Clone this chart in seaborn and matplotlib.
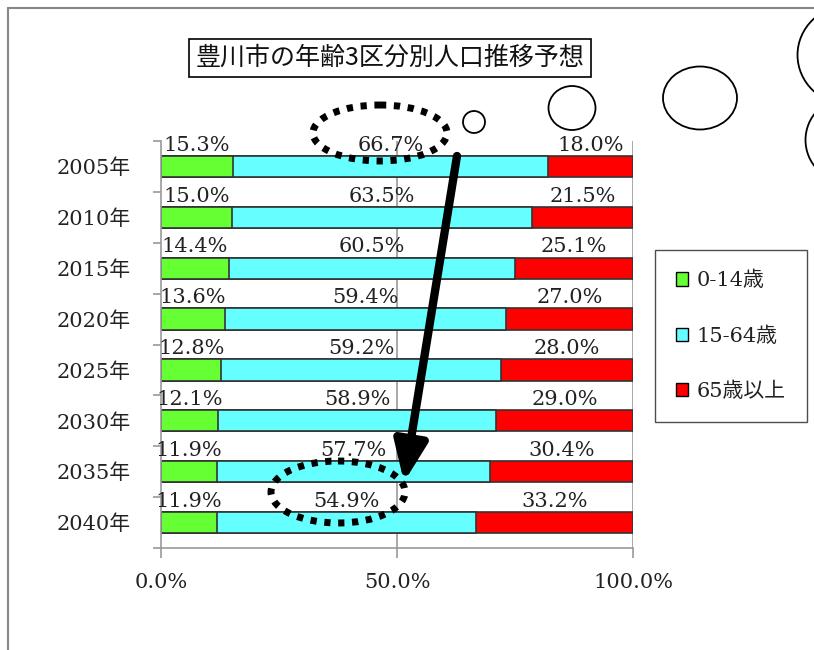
import numpy as np
import pandas as pd
import matplotlib.pyplot as plt
import seaborn as sns
from matplotlib.patches import Ellipse, Patch
from matplotlib.ticker import FuncFormatter

# data (percent)
years = ['2005年', '2010年', '2015年', '2020年', '2025年', '2030年', '2035年', '2040年']
young = [15.3, 15.0, 14.4, 13.6, 12.8, 12.1, 11.9, 11.9]
working = [66.7, 63.5, 60.5, 59.4, 59.2, 58.9, 57.7, 54.9]
elderly = [18.0, 21.5, 25.1, 27.0, 28.0, 29.0, 30.4, 33.2]
groups = ['0-14歳', '15-64歳', '65歳以上']
colors = ['#66FF33', '#66FFFF', '#FF0000']

df = pd.DataFrame({'year': years, 'young': young, 'working': working, 'elderly': elderly})
df['c1'] = df['young'] / 100
df['c2'] = (df['young'] + df['working']) / 100
df['c3'] = (df['young'] + df['working'] + df['elderly']) / 100

sns.set_style('white')
num_font = ['DejaVu Serif', 'Noto Sans CJK JP']
plt.rcParams['font.family'] = num_font

fig = plt.figure(figsize=(8.14, 6.5), dpi=100)
ax = fig.add_axes([161 / 814, 1 - 548 / 650, 472 / 814, 407 / 650])

# stacked bars: draw cumulative totals back to front
edge = '#333333'
for col, c in zip(['c3', 'c2', 'c1'], colors[::-1]):
    sns.barplot(data=df, x=col, y='year', orient='h', color=c, saturation=1,
                edgecolor=edge, linewidth=1.2, width=0.42, ax=ax)

ax.set_xlim(0, 1)
ax.set_ylim(len(years) - 0.5, -0.5)
ax.set_xlabel('')
ax.set_ylabel('')

# gridlines and spines
for x in [0.5, 1.0]:
    ax.axvline(x, color='#999999', lw=1.2, zorder=0)
for s in ['top', 'right']:
    ax.spines[s].set_visible(False)
for s in ['left', 'bottom']:
    ax.spines[s].set_color('#999999')
    ax.spines[s].set_linewidth(1.2)

txt = '#222222'
ax.set_xticks([0, 0.5, 1.0])
ax.xaxis.set_major_formatter(FuncFormatter(lambda v, p: f'{v * 100:.1f}%'))
ax.tick_params(axis='x', bottom=True, length=7, width=1.2, color='#999999',
               pad=11, labelsize=15, labelcolor=txt)
ax.set_yticks(range(len(years)))
ax.set_yticklabels(years)
ax.tick_params(axis='y', left=False, length=0, pad=22, labelsize=15, labelcolor=txt)
ax.set_yticks(np.arange(-0.5, len(years)), minor=True)
ax.tick_params(axis='y', which='minor', left=True, length=6, width=1.2, color='#999999')

# value labels above each segment
for i in range(len(years)):
    starts = [0, df['c1'][i], df['c2'][i]]
    vals = [young[i], working[i], elderly[i]]
    for s, v in zip(starts, vals):
        ax.text(s + v / 200, i - 0.23, f'{v:.1f}%', ha='center', va='bottom',
                fontsize=15, color=txt)

# legend
handles = [Patch(facecolor=c, edgecolor='black', lw=1) for c in colors]
leg = fig.legend(handles, groups, loc='upper left',
                 bbox_to_anchor=(655 / 814, 1 - 250 / 650), frameon=True,
                 fancybox=False, edgecolor='#222222', handlelength=0.6,
                 handleheight=0.6, handletextpad=0.4, labelspacing=1.72,
                 borderpad=1.0, borderaxespad=0, prop={'size': 15})
for t in leg.get_texts():
    t.set_color(txt)

# title box
fig.text(390 / 814, 1 - 58 / 650, '豊川市の年齢3区分別人口推移予想',
         ha='center', va='center', fontsize=18, family=['Noto Sans CJK JP'],
         color='#111111',
         bbox=dict(boxstyle='square,pad=0.25', fc='white', ec='black', lw=1.2))

# overlay for annotations in pixel coordinates
ov = fig.add_axes([0, 0, 1, 1], facecolor='none')
ov.set_xlim(0, 814)
ov.set_ylim(650, 0)
ov.axis('off')

ov.plot([8, 814], [8, 8], color='#888888', lw=1.5)
ov.plot([8, 8], [8, 650], color='#888888', lw=1.5)

dots = dict(fill=False, ec='black', lw=5, ls=(0, (0.9, 1.1)))
ov.add_patch(Ellipse((380, 133), 134, 56, **dots))
ov.add_patch(Ellipse((338, 492), 134, 62, **dots))

ov.annotate('', xy=(404, 482), xytext=(457, 156),
            arrowprops=dict(arrowstyle='-|>,head_length=2.4,head_width=1.0',
                            color='black', lw=6, shrinkA=0, shrinkB=0))

thin = dict(fill=False, ec='black', lw=1.3)
ov.add_patch(Ellipse((474, 122), 22, 22, **thin))
ov.add_patch(Ellipse((572, 108), 47, 44, **thin))
ov.add_patch(Ellipse((700, 98), 74, 63, **thin))
ov.add_patch(Ellipse((850, 55), 105, 100, **thin))
ov.add_patch(Ellipse((848, 140), 85, 85, **thin))

fig.savefig('out.png', dpi=100)
